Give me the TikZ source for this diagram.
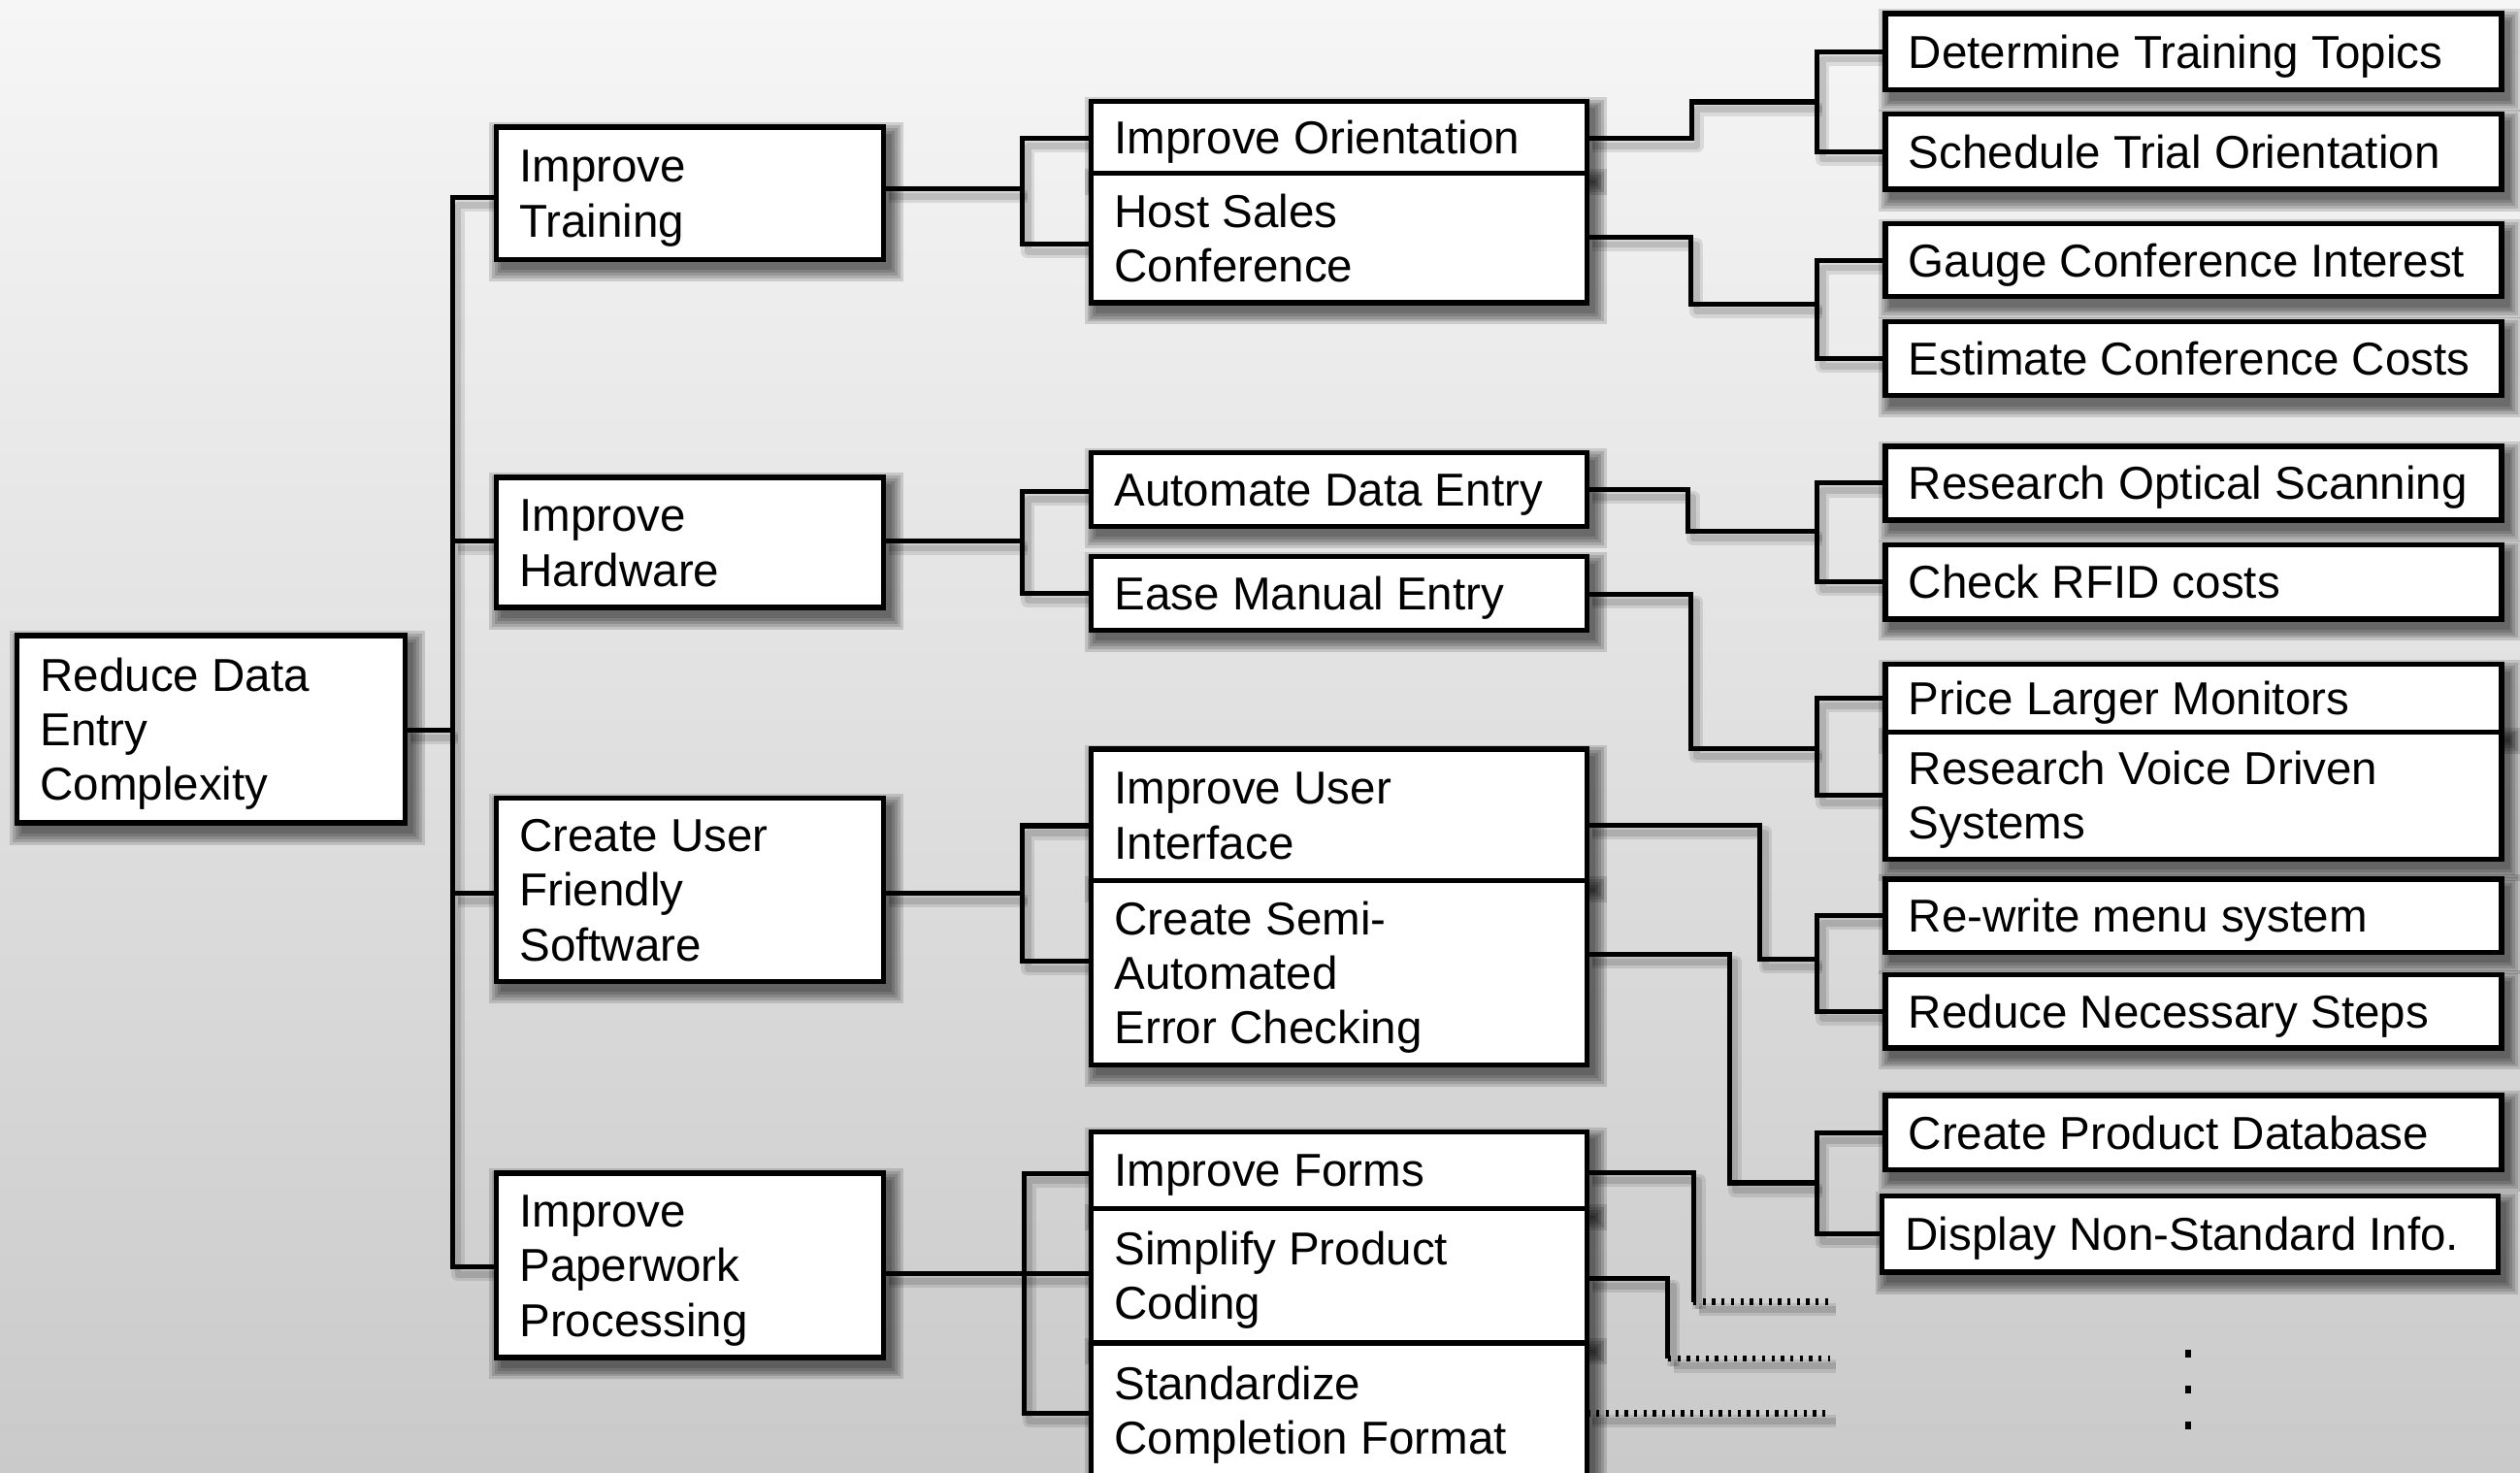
\documentclass[tikz,border=0pt]{standalone}
\usepackage{fontspec}
\setmainfont{Liberation Sans}
\pgfdeclarelayer{bg}
\pgfdeclarelayer{lsh}
\pgfdeclarelayer{fg}
\pgfsetlayers{bg,lsh,main,fg}
\definecolor{bgtop}{RGB}{246,246,246}
\definecolor{bgbot}{RGB}{202,202,202}

\newcommand\tbox[7]{%
 \pgfmathsetlengthmacro\tbW{(#4-#2)*0.03cm}%
 \pgfmathsetlengthmacro\tbH{(#5-#3)*0.03cm}%
 \pgfmathsetlengthmacro\tbT{(#4-#2-29)*0.03cm}%
 \pgfmathsetlengthmacro\tbD{(#6-1)*29pt}%
 \node[tb, minimum width=\tbW, minimum height=\tbH, text height=17.5pt, text depth=\tbD] (#1) at ({(#2+#4)/2},{(#3+#5)/2}) {\makebox[\tbT][l]{\begin{tabular}[t]{@{}l@{}}#7\end{tabular}}};
 \begin{pgfonlayer}{lsh}
  \foreach \r in {7,5.5,4,2.5,1}{%
   \fill[black, fill opacity=0.14] ([shift={(3.4pt-\r pt,-4.6pt+\r pt)}]#1.north west) rectangle ([shift={(3.4pt+\r pt,-4.6pt-\r pt)}]#1.south east);}
 \end{pgfonlayer}}

\newcommand\conns[2]{%
 % trunk
 \draw[#1] (root.east |- j0) -- (j0);
 \draw[#1] (L1a.west |- t1) -- (t1) -- (t4) -- (L1d.west |- t4);
 \draw[#1] (t2) -- (L1b.west |- t2);
 \draw[#1] (t3) -- (L1c.west |- t3);
 % level 1 -> 2
 \draw[#1] (L1a.east |- a0) -- (a0);
 \draw[#1] (L2a.west |- a1) -- (a1) -- (a2) -- (L2b.west |- a2);
 \draw[#1] (L1b.east |- b0) -- (b0);
 \draw[#1] (L2c.west |- b1) -- (b1) -- (b2) -- (L2d.west |- b2);
 \draw[#1] (L1c.east |- c0) -- (c0);
 \draw[#1] (L2e.west |- c1) -- (c1) -- (c2) -- (L2f.west |- c2);
 \draw[#1] (L1d.east |- d0) -- (L2h.west |- d0);
 \draw[#1] (L2g.west |- d1) -- (d1) -- (d2) -- (L2i.west |- d2);
 % level 2 -> 3
 \draw[#1] (L2a.east |- e0) -- (e0) -- (e1) -- (e2);
 \draw[#1] (L3a.west) -| (e2) |- (L3b.west);
 \draw[#1] (L2b.east |- f0) -- (f0) -- (f1) -- (f2);
 \draw[#1] (L3c.west) -| (f2) |- (L3d.west);
 \draw[#1] (L2c.east |- g0) -- (g0) -- (g1) -- (g2);
 \draw[#1] (L3e.west) -| (g2) |- (L3f.west);
 \draw[#1] (L2d.east |- h0) -- (h0) -- (h1) -- (h2);
 \draw[#1] (L3g.west) -| (h2) |- (L3h.west);
 \draw[#1] (L2e.east |- i0) -- (i0) -- (i1) -- (i2);
 \draw[#1] (L3i.west) -| (i2) |- (L3j.west);
 \draw[#1] (L2f.east |- k0) -- (k0) -- (k1) -- (k2);
 \draw[#1] (L3k.west) -| (k2) |- (L3l.west);
 % open branches
 \draw[#1] (L2g.east |- m0) -- (m0) -- (m1);
 \draw[#2] (m1) -- (m2);
 \draw[#1] (L2h.east |- n0) -- (n0) -- (n1);
 \draw[#2] (n1) -- (n2);
 \draw[#2] (L2i.east |- p0) -- (p0);
}

\begin{document}
\begin{tikzpicture}[x=0.03cm,y=-0.03cm,
  tb/.style={rectangle, draw=black, line width=2.8pt, fill=white, inner sep=0pt, outer sep=0pt,
    font=\fontsize{24.5pt}{29pt}\selectfont},
  cn/.style={draw=black, line width=2.6pt},
  cnd/.style={draw=black, line width=3.4pt, dash pattern=on 1.7pt off 3.3pt},
  cns/.style={draw=black, draw opacity=0.10, line width=7pt, line join=round,
    transform canvas={shift={(3pt,-4pt)}}},
  cns2/.style={draw=black, draw opacity=0.12, line width=3.5pt, line join=round,
    transform canvas={shift={(3pt,-4pt)}}}]

\path[use as bounding box] (0,0) rectangle (1568,916);
\begin{pgfonlayer}{bg}
 \shade[top color=bgtop, bottom color=bgbot] (0,0) rectangle (1568,916);
\end{pgfonlayer}

% ---- boxes
\tbox{root}{10.5}{395.5}{252}{512}{3}{Reduce Data\\Entry\\Complexity}

\tbox{L1a}{308.7}{79}{549.8}{161.4}{2}{Improve\\Training}
\tbox{L1b}{308.7}{297}{549.8}{378}{2}{Improve\\Hardware}
\tbox{L1c}{308.7}{496.7}{549.8}{610.6}{3}{Create User\\Friendly\\Software}
\tbox{L1d}{308.7}{730}{549.8}{844.6}{3}{Improve\\Paperwork\\Processing}

\tbox{L2a}{679}{63}{987.4}{107.8}{1}{Improve Orientation}
\tbox{L2b}{679}{107.8}{987.4}{188.3}{2}{Host Sales\\Conference}
\tbox{L2c}{679}{281.7}{987.4}{327.5}{1}{Automate Data Entry}
\tbox{L2d}{679}{346.4}{987.4}{392}{1}{Ease Manual Entry}
\tbox{L2e}{679}{466.2}{987.4}{548}{2}{Improve User\\Interface}
\tbox{L2f}{679}{548}{987.4}{662.6}{3}{Create Semi-\\Automated\\Error Checking}
\tbox{L2g}{679}{704.2}{987.4}{752}{1}{Improve Forms}
\tbox{L2h}{679}{752}{987.4}{835.5}{2}{Simplify Product\\Coding}
\tbox{L2i}{679}{835.5}{987.4}{920}{2}{Standardize\\Completion Format}

\tbox{L3a}{1173}{8.4}{1556.5}{56}{1}{Determine Training Topics}
\tbox{L3b}{1173}{70.8}{1556.5}{117.8}{1}{Schedule Trial Orientation}
\tbox{L3c}{1173}{139.3}{1556.5}{184.6}{1}{Gauge Conference Interest}
\tbox{L3d}{1173}{200.3}{1556.5}{246.2}{1}{Estimate Conference Costs}
\tbox{L3e}{1173}{277.7}{1556.5}{323.6}{1}{Research Optical Scanning}
\tbox{L3f}{1173}{338.9}{1556.5}{385.1}{1}{Check RFID costs}
\tbox{L3g}{1173}{413.4}{1556.5}{455.4}{1}{Price Larger Monitors}
\tbox{L3h}{1173}{455.4}{1556.5}{534.6}{2}{Research Voice Driven\\Systems}
\tbox{L3i}{1173}{547}{1556.5}{592.6}{1}{Re-write menu system}
\tbox{L3j}{1173}{606.4}{1556.5}{652}{1}{Reduce Necessary Steps}
\tbox{L3k}{1173}{681.6}{1556.5}{728}{1}{Create Product Database}
\tbox{L3l}{1171}{744.1}{1554.5}{791.6}{1}{Display Non-Standard Info.}

% ---- junction coordinates
\coordinate (j0) at (281.5,454.5);
\coordinate (t1) at (281.5,123);
\coordinate (t2) at (281.5,336.5);
\coordinate (t3) at (281.5,556);
\coordinate (t4) at (281.5,788.3);

\coordinate (a0) at (636,117.5);
\coordinate (a1) at (636,86);
\coordinate (a2) at (636,152);
\coordinate (b0) at (636,336.5);
\coordinate (b1) at (636,306);
\coordinate (b2) at (636,369);
\coordinate (c0) at (636,556);
\coordinate (c1) at (636,513.8);
\coordinate (c2) at (636,598.2);
\coordinate (d0) at (637,792.7);
\coordinate (d1) at (637,730);
\coordinate (d2) at (637,879.6);

\coordinate (e0) at (1052.5,86);
\coordinate (e1) at (1052.5,63.4);
\coordinate (e2) at (1130.5,63.4);
\coordinate (f0) at (1052,147.5);
\coordinate (f1) at (1052,189);
\coordinate (f2) at (1130.5,189);
\coordinate (g0) at (1050,304.8);
\coordinate (g1) at (1050,330.3);
\coordinate (g2) at (1130.5,330.3);
\coordinate (h0) at (1052,370);
\coordinate (h1) at (1052,466);
\coordinate (h2) at (1130.5,466);
\coordinate (i0) at (1095,513.5);
\coordinate (i1) at (1095,597);
\coordinate (i2) at (1130.5,597);
\coordinate (k0) at (1076,594);
\coordinate (k1) at (1076,736);
\coordinate (k2) at (1130.5,736);
\coordinate (m0) at (1053.6,729.8);
\coordinate (m1) at (1053.6,810);
\coordinate (m2) at (1139,810);
\coordinate (n0) at (1037.8,795.5);
\coordinate (n1) at (1037.8,845.3);
\coordinate (n2) at (1139,845.3);
\coordinate (p0) at (1139,879.5);

% ---- connectors
\begin{pgfonlayer}{lsh}
 \conns{cns}{cns}
 \conns{cns2}{cns2}
\end{pgfonlayer}
\begin{pgfonlayer}{fg}
 \conns{cn}{cnd}
 % vertical ellipsis
 \fill (1359.6,840.0) rectangle (1363.4,844.8);
 \fill (1359.6,862.1) rectangle (1363.4,866.9);
 \fill (1359.6,884.3) rectangle (1363.4,889.1);
\end{pgfonlayer}
\end{tikzpicture}
\end{document}
